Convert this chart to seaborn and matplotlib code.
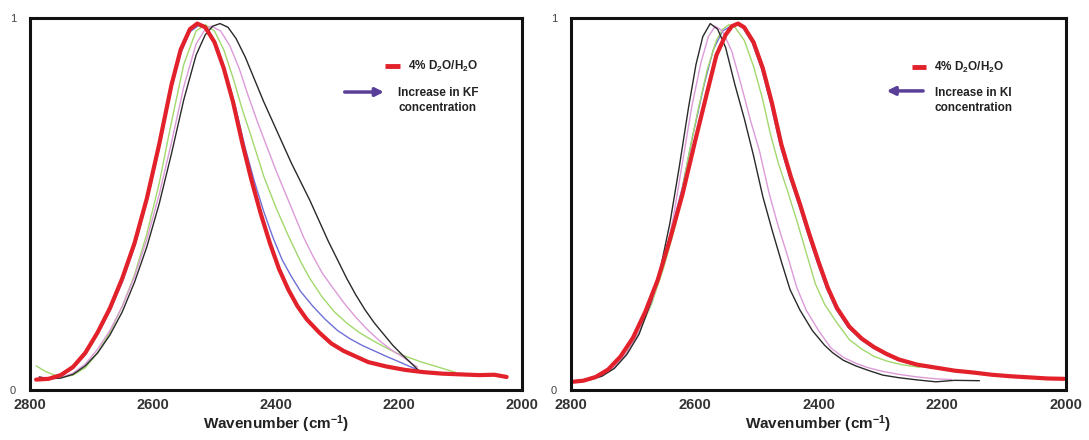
import matplotlib
matplotlib.use("Agg")
import matplotlib.pyplot as plt
import seaborn as sns
import pandas as pd

# ---- data (wavenumber, normalised absorbance) ----
# left panel: KF series
kf_red_x = [2790, 2770, 2750, 2730, 2710, 2690, 2670, 2650, 2630, 2610, 2590, 2570, 2555, 2540, 2528, 2515, 2500, 2485, 2470, 2455,
            2440, 2425, 2410, 2395, 2380, 2365, 2350, 2330, 2310, 2290, 2270, 2250, 2220, 2190, 2160, 2130, 2100, 2070, 2045, 2025]
kf_red_y = [0.028, 0.03, 0.04, 0.062, 0.1, 0.155, 0.22, 0.3, 0.395, 0.515, 0.66, 0.82, 0.915, 0.97, 0.985, 0.975, 0.935, 0.865, 0.775, 0.665,
            0.565, 0.475, 0.395, 0.325, 0.27, 0.225, 0.19, 0.155, 0.125, 0.105, 0.09, 0.075, 0.063, 0.054, 0.048, 0.044, 0.042, 0.04, 0.041, 0.035]

kf_blue_x = [2790, 2770, 2750, 2730, 2710, 2690, 2670, 2650, 2630, 2610, 2590, 2570, 2555, 2540, 2524, 2510, 2495, 2480, 2465, 2450,
             2435, 2420, 2405, 2390, 2375, 2360, 2340, 2320, 2300, 2280, 2260, 2240, 2220, 2200, 2185, 2169]
kf_blue_y = [0.028, 0.03, 0.038, 0.058, 0.095, 0.15, 0.213, 0.29, 0.385, 0.505, 0.65, 0.81, 0.905, 0.963, 0.982, 0.965, 0.92, 0.845, 0.755, 0.65,
             0.56, 0.48, 0.41, 0.35, 0.305, 0.265, 0.225, 0.19, 0.16, 0.138, 0.12, 0.105, 0.09, 0.076, 0.065, 0.054]

kf_green_x = [2790, 2775, 2760, 2745, 2730, 2710, 2690, 2670, 2650, 2630, 2610, 2590, 2570, 2550, 2530, 2515, 2500, 2485, 2470, 2455,
              2440, 2420, 2400, 2380, 2360, 2345, 2325, 2305, 2285, 2265, 2245, 2225, 2205, 2185, 2165, 2145, 2125, 2109]
kf_green_y = [0.065, 0.05, 0.04, 0.035, 0.04, 0.06, 0.1, 0.155, 0.225, 0.31, 0.42, 0.555, 0.72, 0.875, 0.965, 0.982, 0.965, 0.915, 0.84, 0.755,
              0.68, 0.575, 0.49, 0.415, 0.345, 0.3, 0.25, 0.21, 0.18, 0.155, 0.135, 0.117, 0.1, 0.088, 0.076, 0.066, 0.056, 0.048]

kf_pink_x = [2785, 2770, 2750, 2730, 2710, 2690, 2670, 2650, 2630, 2610, 2590, 2570, 2550, 2530, 2515, 2505, 2490, 2475, 2460, 2445,
             2430, 2415, 2400, 2385, 2370, 2355, 2340, 2325, 2310, 2290, 2270, 2250, 2230, 2210, 2193, 2180, 2170]
kf_pink_y = [0.035, 0.032, 0.034, 0.045, 0.07, 0.11, 0.16, 0.225, 0.305, 0.405, 0.525, 0.665, 0.815, 0.93, 0.97, 0.978, 0.965, 0.925, 0.865, 0.79,
             0.72, 0.655, 0.59, 0.53, 0.47, 0.41, 0.36, 0.315, 0.28, 0.235, 0.195, 0.16, 0.13, 0.105, 0.088, 0.072, 0.062]

kf_black_x = [2785, 2770, 2750, 2730, 2710, 2690, 2670, 2650, 2630, 2610, 2590, 2570, 2550, 2530, 2515, 2503, 2491, 2478, 2465, 2450,
              2435, 2420, 2405, 2390, 2375, 2360, 2345, 2330, 2315, 2300, 2285, 2270, 2255, 2240, 2225, 2210, 2195, 2182, 2169]
kf_black_y = [0.035, 0.03, 0.032, 0.042, 0.065, 0.1, 0.148, 0.21, 0.29, 0.385, 0.5, 0.635, 0.78, 0.9, 0.955, 0.978, 0.985, 0.975, 0.945, 0.895,
              0.835, 0.775, 0.72, 0.665, 0.61, 0.56, 0.51, 0.455, 0.4, 0.35, 0.3, 0.255, 0.215, 0.18, 0.15, 0.12, 0.095, 0.075, 0.054]

# right panel: KI series
ki_red_x = [2798, 2780, 2760, 2740, 2720, 2700, 2680, 2660, 2640, 2620, 2600, 2580, 2565, 2550, 2540, 2530, 2520, 2505, 2490, 2475,
            2460, 2445, 2430, 2415, 2400, 2385, 2370, 2350, 2330, 2310, 2290, 2270, 2240, 2210, 2180, 2150, 2120, 2090, 2060, 2030, 2003]
ki_red_y = [0.022, 0.025, 0.035, 0.055, 0.09, 0.14, 0.21, 0.295, 0.405, 0.525, 0.665, 0.8, 0.9, 0.955, 0.978, 0.985, 0.975, 0.935, 0.865, 0.77,
            0.66, 0.575, 0.5, 0.42, 0.345, 0.275, 0.22, 0.17, 0.138, 0.115, 0.097, 0.082, 0.068, 0.06, 0.052, 0.047, 0.041, 0.037, 0.034, 0.031, 0.03]

ki_blue_x = [2798, 2780, 2760, 2740, 2720, 2700, 2680, 2660, 2640, 2620, 2603, 2585, 2570, 2555, 2542, 2532, 2522, 2507, 2492, 2477,
             2462, 2447, 2432, 2417, 2402, 2387, 2372, 2352, 2332, 2312, 2292, 2272, 2242, 2212]
ki_blue_y = [0.022, 0.025, 0.035, 0.055, 0.09, 0.14, 0.21, 0.3, 0.415, 0.545, 0.685, 0.82, 0.915, 0.965, 0.978, 0.983, 0.973, 0.933, 0.863, 0.768,
             0.658, 0.573, 0.498, 0.418, 0.343, 0.273, 0.218, 0.168, 0.136, 0.113, 0.095, 0.08, 0.066, 0.058]

ki_green_x = [2790, 2770, 2750, 2730, 2710, 2690, 2670, 2650, 2630, 2610, 2595, 2580, 2565, 2555, 2545, 2535, 2520, 2505, 2490, 2478,
              2465, 2450, 2435, 2420, 2405, 2390, 2370, 2350, 2330, 2310, 2290, 2265, 2236]
ki_green_y = [0.025, 0.028, 0.04, 0.06, 0.1, 0.155, 0.23, 0.33, 0.45, 0.63, 0.75, 0.86, 0.94, 0.97, 0.982, 0.975, 0.94, 0.87, 0.78, 0.69,
              0.61, 0.535, 0.455, 0.37, 0.285, 0.23, 0.18, 0.135, 0.11, 0.09, 0.078, 0.068, 0.061]

ki_pink_x = [2790, 2770, 2750, 2730, 2710, 2690, 2670, 2650, 2635, 2620, 2605, 2590, 2578, 2567, 2555, 2540, 2525, 2510, 2495, 2480,
             2465, 2450, 2435, 2420, 2400, 2380, 2360, 2340, 2320, 2296, 2270, 2240, 2210, 2185]
ki_pink_y = [0.025, 0.028, 0.04, 0.062, 0.1, 0.155, 0.235, 0.345, 0.46, 0.61, 0.76, 0.88, 0.95, 0.978, 0.965, 0.91, 0.82, 0.725, 0.64, 0.53,
             0.44, 0.36, 0.275, 0.215, 0.16, 0.113, 0.088, 0.072, 0.06, 0.05, 0.042, 0.035, 0.03, 0.028]

ki_black_x = [2790, 2770, 2750, 2730, 2710, 2690, 2670, 2655, 2640, 2625, 2610, 2598, 2587, 2575, 2563, 2550, 2535, 2520, 2505, 2490,
              2475, 2460, 2446, 2430, 2410, 2390, 2377, 2360, 2340, 2320, 2296, 2270, 2240, 2210, 2180, 2140]
ki_black_y = [0.025, 0.027, 0.037, 0.058, 0.095, 0.15, 0.24, 0.33, 0.45, 0.6, 0.76, 0.875, 0.95, 0.985, 0.97, 0.92, 0.82, 0.73, 0.63, 0.52,
              0.43, 0.345, 0.27, 0.215, 0.16, 0.12, 0.1, 0.08, 0.065, 0.053, 0.04, 0.033, 0.027, 0.022, 0.026, 0.025]

x_ticks = [2800, 2600, 2400, 2200, 2000]
y_ticks = [0, 1]
legend_label = "4% D$_2$O/H$_2$O"
arrow_labels = ["Increase in KF\nconcentration", "Increase in KI\nconcentration"]

thin_colors = {"blue": "#6f6fd6", "green": "#a2d86c", "pink": "#dc9ad8", "black": "#2a2a2a"}
red = "#e3212b"
arrow_color = "#5a3f99"

sns.set_style("white")
plt.rcParams["font.family"] = ["Liberation Sans", "DejaVu Sans"]
plt.rcParams["mathtext.fontset"] = "custom"
plt.rcParams["mathtext.rm"] = "Liberation Sans:bold"
plt.rcParams["mathtext.it"] = "Liberation Sans:bold"

fig = plt.figure(figsize=(10.89, 4.4), dpi=100)
ax_l = fig.add_axes([30 / 1089, 50 / 440, 492 / 1089, 372 / 440])
ax_r = fig.add_axes([571 / 1089, 50 / 440, 495 / 1089, 372 / 440])

panels = [
    (ax_l, [(kf_blue_x, kf_blue_y, "blue"), (kf_green_x, kf_green_y, "green"),
            (kf_pink_x, kf_pink_y, "pink"), (kf_black_x, kf_black_y, "black")],
     (kf_red_x, kf_red_y)),
    (ax_r, [(ki_blue_x, ki_blue_y, "blue"), (ki_green_x, ki_green_y, "green"),
            (ki_pink_x, ki_pink_y, "pink"), (ki_black_x, ki_black_y, "black")],
     (ki_red_x, ki_red_y)),
]

for ax, thin, (rx, ry) in panels:
    for xs, ys, c in thin:
        df = pd.DataFrame({"wn": xs, "a": ys})
        sns.lineplot(data=df, x="wn", y="a", ax=ax, color=thin_colors[c], lw=1.0, sort=False)
    df = pd.DataFrame({"wn": rx, "a": ry})
    sns.lineplot(data=df, x="wn", y="a", ax=ax, color=red, lw=3.0, sort=False)

    ax.set_xlim(2800, 2000)
    ax.set_ylim(0, 1)
    ax.set_xticks(x_ticks)
    ax.set_yticks(y_ticks)
    ax.set_xticklabels([str(t) for t in x_ticks], fontsize=10.5, fontweight="bold", color="#333333")
    ax.set_yticklabels([str(t) for t in y_ticks], fontsize=8, color="#444444")
    ax.tick_params(axis="x", length=0, pad=6)
    ax.tick_params(axis="y", length=0, pad=10)
    ax.set_xlabel("Wavenumber (cm$^{-1}$)", fontsize=11, fontweight="bold", color="#222222", labelpad=1)
    ax.set_ylabel("")
    for s in ax.spines.values():
        s.set_visible(True)
        s.set_color("#111111")
        s.set_linewidth(2.2)

# legend-like annotations
ax_l.plot([0.722, 0.752], [0.871, 0.871], transform=ax_l.transAxes, color=red, lw=3.5, solid_capstyle="butt")
ax_l.text(0.768, 0.871, legend_label, transform=ax_l.transAxes, fontsize=8.5, fontweight="bold",
          va="center", ha="left", color="#222222")
ax_l.annotate("", xy=(0.725, 0.801), xytext=(0.634, 0.801), xycoords="axes fraction",
              arrowprops=dict(arrowstyle="-|>", color=arrow_color, lw=2.5, mutation_scale=12))
ax_l.text(0.748, 0.779, arrow_labels[0], transform=ax_l.transAxes, fontsize=8.5, fontweight="bold",
          va="center", ha="left", multialignment="left", color="#222222", linespacing=1.3)

ax_r.plot([0.689, 0.717], [0.868, 0.868], transform=ax_r.transAxes, color=red, lw=3.5, solid_capstyle="butt")
ax_r.text(0.733, 0.868, legend_label, transform=ax_r.transAxes, fontsize=8.5, fontweight="bold",
          va="center", ha="left", color="#222222")
ax_r.annotate("", xy=(0.632, 0.804), xytext=(0.717, 0.804), xycoords="axes fraction",
              arrowprops=dict(arrowstyle="-|>", color=arrow_color, lw=2.5, mutation_scale=12))
ax_r.text(0.735, 0.779, arrow_labels[1], transform=ax_r.transAxes, fontsize=8.5, fontweight="bold",
          va="center", ha="left", multialignment="left", color="#222222", linespacing=1.3)

fig.savefig("out.png", dpi=100)
